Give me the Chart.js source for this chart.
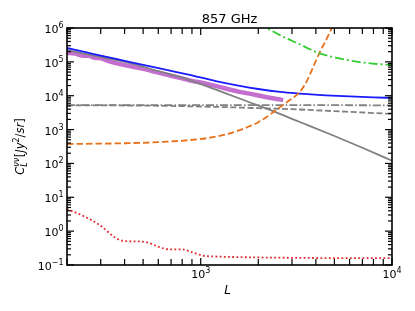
<!DOCTYPE html>
<html>
<head>
<meta charset="utf-8">
<script src="https://cdn.jsdelivr.net/npm/chart.js@4.4.0/dist/chart.umd.min.js"></script>
<style>
  html,body{margin:0;padding:0;background:#fff;}
  #c{display:block;}
</style>
</head>
<body>
<canvas id="c" width="415" height="311"></canvas>
<script>
// ---- data ----
const blueL = [200,250,300,400,500,700,876,1200,1600,2000,2600,3300,4500,6000,8000,10000];
const blueV = [2.57e5,1.94e5,1.53e5,1.07e5,8.1e4,5.4e4,4.1e4,2.7e4,1.95e4,1.58e4,1.3e4,1.16e4,1.03e4,9.5e3,8.9e3,8.6e3];

const grayL = [200,300,425,600,876,1300,1800,2300,3300,5000,7000,10000];
const grayV = [2.24e5,1.39e5,9.25e4,5.3e4,2.9e4,1.27e4,6.4e3,3.8e3,1.67e3,645,290,120];

const magL = [200,220,240,260,280,300,330,360,400,450,500,560,630,700,800,900,1000,1150,1300,1450,1600,1800,2000,2250,2500,2700];
const magV = [1.85e5,1.75e5,1.55e5,1.5e5,1.32e5,1.28e5,1.05e5,9.2e4,8.0e4,7.0e4,6.2e4,5.3e4,4.5e4,3.9e4,3.25e4,2.75e4,2.45e4,2.05e4,1.72e4,1.47e4,1.3e4,1.15e4,1.02e4,8.9e3,8.0e3,7.5e3];

const ddL = [200,500,1000,2000,5000,10000];
const ddV = [5.3e3,5.3e3,5.3e3,5.3e3,5.25e3,5.2e3];

const dsL = [200,500,1000,2000,3000,5000,7000,10000];
const dsV = [5.2e3,5.1e3,4.8e3,4.3e3,4.0e3,3.5e3,3.2e3,2.9e3];

const orL = [200,400,600,876,1115,1350,1600,1800,2000,2200,2400,2600,2900,3300,3600,3850,4150,4500,4850,5200];
const orV = [375,395,425,490,575,720,960,1250,1650,2300,3300,4600,7200,1.3e4,2.8e4,6.5e4,1.7e5,4.2e5,1.0e6,2.4e6];

const grL = [2000,2217,2594,3000,3300,3700,4150,5000,5808,7000,8500,10000];
const grV = [1.5e6,1.0e6,6.2e5,4.2e5,3.3e5,2.4e5,1.8e5,1.35e5,1.14e5,9.6e4,8.6e4,8.1e4];

const rdL = [200,247,296,355,391,450,497,550,596,688,795,897,1050,1200,1500,2000,3000,5000,10000];
const rdV = [4.5,2.7,1.52,0.66,0.52,0.5,0.49,0.43,0.35,0.29,0.29,0.24,0.185,0.178,0.172,0.167,0.163,0.16,0.16];

const xTickExps = [3,4];
const yTickExps = [-1,0,1,2,3,4,5,6];
const titleText = '857 GHz';

function pts(L,V){ return L.map((l,i)=>({x:l,y:V[i]})); }

const common = {pointRadius:0, fill:false, cubicInterpolationMode:'monotone', clip:0};

const datasets = [
  Object.assign({data:pts(magL,magV), borderColor:'#c46fd0', borderWidth:4.5, order:10}, common),
  Object.assign({data:pts(ddL,ddV), borderColor:'#808080', borderWidth:1.8, borderDash:[8,2.2,1.5,2.2], order:8}, common),
  Object.assign({data:pts(dsL,dsV), borderColor:'#808080', borderWidth:1.8, borderDash:[6,2.6], order:7}, common),
  Object.assign({data:pts(grayL,grayV), borderColor:'#808080', borderWidth:1.8, order:6}, common),
  Object.assign({data:pts(blueL,blueV), borderColor:'#1a1aff', borderWidth:1.8, order:5}, common),
  Object.assign({data:pts(orL,orV), borderColor:'#e8711a', borderWidth:1.8, borderDash:[6.5,3], order:4}, common),
  Object.assign({data:pts(grL,grV), borderColor:'#33cc33', borderWidth:1.8, borderDash:[9,3,2,3], order:3}, common),
  Object.assign({data:pts(rdL,rdV), borderColor:'#e0282c', borderWidth:1.8, borderDash:[1.8,2.4], order:2}, common)
];

function supText(ctx, base, exp, x, y, align, baseFont, expFont){
  ctx.font = baseFont; const wb = ctx.measureText(base).width;
  ctx.font = expFont; const we = ctx.measureText(exp).width;
  const w = wb + we;
  let x0 = align==='right' ? x - w : (align==='center' ? x - w/2 : x);
  ctx.textAlign='left'; ctx.textBaseline='alphabetic';
  ctx.font = baseFont; ctx.fillText(base, x0, y);
  ctx.font = expFont; ctx.fillText(exp, x0+wb, y-5);
}

const axesPlugin = {
  id:'axesPlugin',
  afterDraw(chart){
    const ctx = chart.ctx, a = chart.chartArea, xs = chart.scales.x, ys = chart.scales.y;
    ctx.save();
    ctx.strokeStyle = '#000'; ctx.fillStyle = '#000';
    ctx.lineWidth = 1.2;
    const seg = (x1,y1,x2,y2)=>{ctx.beginPath();ctx.moveTo(x1,y1);ctx.lineTo(x2,y2);ctx.stroke();};
    for (let e=-1;e<=6;e++){
      for (let m=1;m<10;m++){
        const v = m*Math.pow(10,e);
        if (v < 0.1*0.999 || v > 1e6*1.001) continue;
        const py = ys.getPixelForValue(v);
        const len = m===1 ? 7 : 4;
        seg(a.left,py,a.left+len,py);
        seg(a.right,py,a.right-len,py);
      }
    }
    for (let e=2;e<=4;e++){
      for (let m=1;m<10;m++){
        const v = m*Math.pow(10,e);
        if (v < 200*0.999 || v > 1e4*1.001) continue;
        const px = xs.getPixelForValue(v);
        const len = m===1 ? 7 : 6;
        seg(px,a.bottom,px,a.bottom-len);
        seg(px,a.top,px,a.top+len);
      }
    }
    ctx.lineWidth = 1.6;
    ctx.strokeRect(a.left, a.top, a.right-a.left, a.bottom-a.top);
    const bf = '11px "DejaVu Sans"', ef = '8px "DejaVu Sans"';
    yTickExps.forEach(e=>{
      const py = ys.getPixelForValue(Math.pow(10,e));
      supText(ctx,'10', e<0 ? '\u2212'+Math.abs(e) : String(e), a.left-3.5, py+5, 'right', bf, ef);
    });
    xTickExps.forEach(e=>{
      const px = xs.getPixelForValue(Math.pow(10,e));
      supText(ctx,'10', String(e), px, a.bottom+13, 'center', bf, ef);
    });
    ctx.font = '13px "DejaVu Sans"'; ctx.textAlign='center'; ctx.textBaseline='alphabetic';
    ctx.fillText(titleText, (a.left+a.right)/2, a.top-5);
    ctx.font = 'italic 12px "DejaVu Sans"';
    ctx.fillText('L', (a.left+a.right)/2 - 2, a.bottom+29);
    ctx.save();
    ctx.translate(24, (a.top+a.bottom)/2);
    ctx.rotate(-Math.PI/2);
    ctx.textAlign='left';
    const big='italic 11.5px "DejaVu Sans"', sm='italic 8px "DejaVu Sans"', up='11.5px "DejaVu Sans"', upsm='8px "DejaVu Sans"';
    const parts = [
      {t:'C', f:big, dy:0},
      {t:'\u03BD\u03BD', f:sm, dy:-5, group:true},
      {t:'L', f:sm, dy:3, groupEnd:true},
      {t:'[', f:up, dy:0},
      {t:'Jy', f:big, dy:0},
      {t:'2', f:upsm, dy:-5},
      {t:'/', f:up, dy:0},
      {t:'sr', f:big, dy:0},
      {t:']', f:up, dy:0}
    ];
    let total=0, gw=0;
    parts.forEach(p=>{ctx.font=p.f; const w=ctx.measureText(p.t).width;
      if (p.group){gw=w;} else if (p.groupEnd){total+=Math.max(gw,w)+0.5;} else total+=w;});
    let cx = -total/2;
    parts.forEach(p=>{ctx.font=p.f; const w=ctx.measureText(p.t).width;
      ctx.fillText(p.t, cx, p.dy);
      if (p.group){gw=w;} else if (p.groupEnd){cx+=Math.max(gw,w)+0.5;} else cx+=w;});
    ctx.restore();
    ctx.restore();
  }
};

new Chart(document.getElementById('c'), {
  type:'line',
  data:{datasets},
  options:{
    responsive:false, animation:false, devicePixelRatio:1,
    layout:{padding:{left:67, top:28, right:23, bottom:46}},
    scales:{
      x:{type:'logarithmic', min:200, max:10000, display:false},
      y:{type:'logarithmic', min:0.1, max:1e6, display:false}
    },
    plugins:{legend:{display:false}, tooltip:{enabled:false}, title:{display:false}},
    events:[]
  },
  plugins:[axesPlugin]
});
</script>
</body>
</html>
